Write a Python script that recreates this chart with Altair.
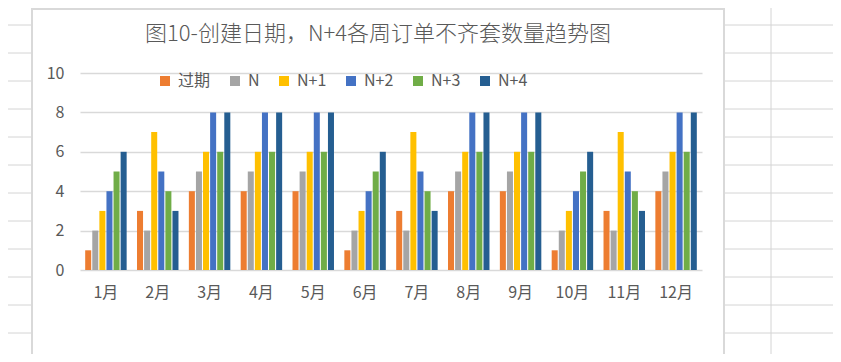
import altair as alt
import pandas as pd

FONT = "Noto Sans CJK SC"
TEXT_COLOR = "#595959"

title_text = "图10-创建日期，N+4各周订单不齐套数量趋势图"
months = ["1月", "2月", "3月", "4月", "5月", "6月", "7月", "8月", "9月", "10月", "11月", "12月"]
series = ["过期", "N", "N+1", "N+2", "N+3", "N+4"]
overdue = [1, 3, 4, 4, 4, 1, 3, 4, 4, 1, 3, 4]
week_n = [2, 2, 5, 5, 5, 2, 2, 5, 5, 2, 2, 5]
week_n1 = [3, 7, 6, 6, 6, 3, 7, 6, 6, 3, 7, 6]
week_n2 = [4, 5, 8, 8, 8, 4, 5, 8, 8, 4, 5, 8]
week_n3 = [5, 4, 6, 6, 6, 5, 4, 6, 6, 5, 4, 6]
week_n4 = [6, 3, 8, 8, 8, 6, 3, 8, 8, 6, 3, 8]
colors = ["#ED7D31", "#A5A5A5", "#FFC000", "#4472C4", "#70AD47", "#255E91"]
y_ticks = [0, 2, 4, 6, 8, 10]

rows = []
for s, vals in zip(series, [overdue, week_n, week_n1, week_n2, week_n3, week_n4]):
    for m, v in zip(months, vals):
        rows.append({"月份": m, "系列": s, "数量": v})
df = pd.DataFrame(rows)

# plot area size and its origin on the page (page margin + padding)
W, H = 622, 197
PAD_L, PAD_T = 72, 65
OX, OY = 8 + PAD_L, 8 + PAD_T

# spreadsheet background (decoration): row / column lines and chart frame, page coords
sheet_rows = [25, 53, 81, 109, 137, 165, 193, 221, 249, 277, 305, 333, 361]
sheet_cols_right = [771]
frame_box = [32, 9, 724, 370]

segs = []
for y in sheet_rows:
    segs.append((8, y, 31, y))
    segs.append((725, y, 833, y))
for x in sheet_cols_right:
    segs.append((x, 8, x, 354))
grid_df = pd.DataFrame(
    [{"x": a - OX, "y": b - OY, "x2": c - OX, "y2": d - OY} for a, b, c, d in segs]
)
frame_df = pd.DataFrame([{
    "x": frame_box[0] - OX, "y": frame_box[1] - OY,
    "x2": frame_box[2] - OX, "y2": frame_box[3] - OY,
}])
title_df = pd.DataFrame([{"t": title_text}])

sheet = alt.Chart(grid_df).mark_rule(color="#d4d4d4", strokeWidth=1).encode(
    x=alt.X("x:Q", scale=None, axis=None),
    y=alt.Y("y:Q", scale=None, axis=None),
    x2="x2:Q",
    y2="y2:Q",
)
frame = alt.Chart(frame_df).mark_rect(filled=False, stroke="#d9d9d9", strokeWidth=2).encode(
    x=alt.X("x:Q", scale=None, axis=None),
    y=alt.Y("y:Q", scale=None, axis=None),
    x2="x2:Q",
    y2="y2:Q",
)
title = alt.Chart(title_df).mark_text(
    font=FONT, fontSize=22, fontWeight=300, color=TEXT_COLOR, align="center", baseline="middle"
).encode(
    text="t:N",
    x=alt.value(378 - OX),
    y=alt.value(34 - OY),
)

bars = alt.Chart(df).mark_bar().encode(
    x=alt.X(
        "月份:N", sort=months,
        scale=alt.Scale(paddingInner=0.2, paddingOuter=0.1),
        axis=alt.Axis(title=None, labelAngle=0, domain=False, ticks=False,
                      labelFontSize=16, labelColor=TEXT_COLOR, labelFont=FONT,
                      labelPadding=14),
    ),
    xOffset=alt.XOffset("系列:N", sort=series, scale=alt.Scale(paddingInner=0.15)),
    y=alt.Y(
        "数量:Q", scale=alt.Scale(domain=[0, 10]),
        axis=alt.Axis(title=None, values=y_ticks, domain=False, ticks=False,
                      gridColor="#d9d9d9", gridWidth=1.5,
                      labelFontSize=16, labelColor=TEXT_COLOR, labelFont=FONT,
                      labelPadding=16),
    ),
    color=alt.Color(
        "系列:N", sort=series,
        scale=alt.Scale(domain=series, range=colors),
        legend=alt.Legend(title=None, orient="none", direction="horizontal",
                          legendX=77, legendY=0, symbolType="square", symbolSize=100,
                          symbolStrokeWidth=0, labelFontSize=16, labelColor=TEXT_COLOR,
                          labelFont=FONT, labelOffset=5, columnPadding=16),
    ),
)

chart = alt.layer(sheet, frame, title, bars).resolve_scale(
    x="independent", y="independent"
).properties(
    width=W,
    height=H,
    autosize=alt.AutoSizeParams(type="none"),
    padding={"left": PAD_L, "top": PAD_T, "right": 825 - PAD_L - W, "bottom": 346 - PAD_T - H},
).configure_view(stroke=None)

chart.save("out.html", embed_options={"renderer": "svg", "actions": False})
